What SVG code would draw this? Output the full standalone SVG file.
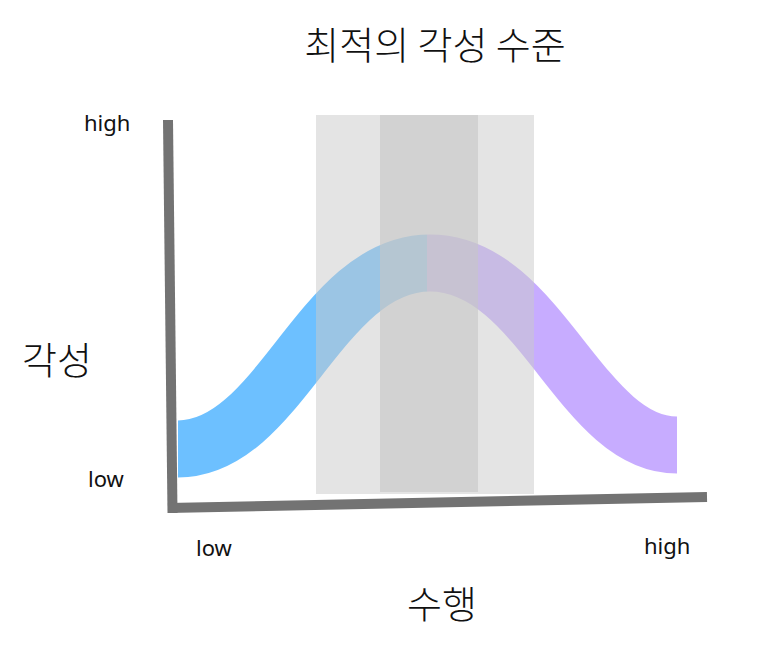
<svg xmlns="http://www.w3.org/2000/svg" width="775" height="664" viewBox="0 0 775 664">
  <style>
    .ko { font-family: "Noto Sans CJK KR", "Noto Sans", sans-serif; font-weight: 300; fill: #111; }
    .en { font-family: "Noto Sans", "Liberation Sans", sans-serif; font-size: 22px; fill: #111; }
    .axis { stroke: #737373; stroke-width: 10; fill: none; }
  </style>
  <defs>
    <linearGradient id="bandGrad" gradientUnits="userSpaceOnUse" x1="178" y1="0" x2="677" y2="0">
      <stop offset="0.5" stop-color="#6DC0FF"/>
      <stop offset="0.5" stop-color="#C7ACFF"/>
    </linearGradient>
  </defs>
  <rect width="775" height="664" fill="#ffffff"/>

  <g id="title">
    <text class="ko" x="435" y="59" font-size="38" text-anchor="middle">최적의 각성 수준</text>
  </g>

  <g id="band">
    <path d="M178,449 C280,449 320,263 430,263 C540,263 580,445 677,445" fill="none" stroke="url(#bandGrad)" stroke-width="57" stroke-linecap="butt"/>
  </g>

  <g id="zone">
    <rect x="316" y="115" width="218" height="379" fill="#c9c9c9" fill-opacity="0.5"/>
    <rect x="380" y="115" width="98" height="377" fill="#c7c7c7" fill-opacity="0.6"/>
  </g>

  <g id="axes">
    <line class="axis" x1="168" y1="120" x2="172.5" y2="513"/>
    <line class="axis" x1="168" y1="508" x2="707" y2="497"/>
  </g>

  <g id="y-labels">
    <text class="en" x="84" y="131">high</text>
    <text class="en" x="88" y="487">low</text>
    <text class="ko" x="22" y="374" font-size="38">각성</text>
  </g>

  <g id="x-labels">
    <text class="en" x="196" y="556">low</text>
    <text class="en" x="644" y="554">high</text>
    <text class="ko" x="442" y="618" font-size="38" text-anchor="middle">수행</text>
  </g>
</svg>
